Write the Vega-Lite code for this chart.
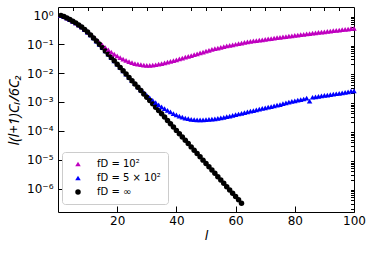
{
  "$schema": "https://vega.github.io/schema/vega-lite/v6.json",
  "width": 296,
  "height": 205,
  "autosize": "none",
  "padding": {"left": 58, "top": 7, "right": 20, "bottom": 41},
  "config": {
    "font": "DejaVu Sans",
    "view": {"stroke": "black", "strokeWidth": 1},
    "axis": {"grid": false, "domain": false, "tickColor": "black", "labelColor": "black", "titleColor": "black", "labelFontSize": 12, "titleFontWeight": "normal", "labelFlush": false}
  },
  "data": {"values": [
    {"l":1,"m":1,"b":1,"k":1},
    {"l":2,"m":0.912,"b":0.912,"k":0.912},
    {"l":3,"m":0.813,"b":0.813,"k":0.813},
    {"l":4,"m":0.724,"b":0.724,"k":0.724},
    {"l":5,"m":0.631,"b":0.631,"k":0.631},
    {"l":6,"m":0.55,"b":0.55,"k":0.55},
    {"l":7,"m":0.468,"b":0.468,"k":0.468},
    {"l":8,"m":0.398,"b":0.398,"k":0.398},
    {"l":9,"m":0.326,"b":0.326,"k":0.326},
    {"l":10,"m":0.266,"b":0.264,"k":0.264},
    {"l":11,"m":0.215,"b":0.211,"k":0.211},
    {"l":12,"m":0.174,"b":0.166,"k":0.166},
    {"l":13,"m":0.14,"b":0.129,"k":0.129},
    {"l":14,"m":0.114,"b":0.0995,"k":0.0995},
    {"l":15,"m":0.0929,"b":0.0764,"k":0.0764},
    {"l":16,"m":0.0766,"b":0.0587,"k":0.0587},
    {"l":17,"m":0.0637,"b":0.0451,"k":0.0451},
    {"l":18,"m":0.0536,"b":0.0347,"k":0.0347},
    {"l":19,"m":0.0457,"b":0.0266,"k":0.0266},
    {"l":20,"m":0.0398,"b":0.0204,"k":0.0204},
    {"l":21,"m":0.0347,"b":0.0157,"k":0.0157},
    {"l":22,"m":0.0305,"b":0.01205,"k":0.01205},
    {"l":23,"m":0.0274,"b":0.00927,"k":0.00927},
    {"l":24,"m":0.0249,"b":0.00711,"k":0.00711},
    {"l":25,"m":0.023,"b":0.00552,"k":0.00546},
    {"l":26,"m":0.0215,"b":0.00429,"k":0.0042},
    {"l":27,"m":0.0204,"b":0.00335,"k":0.00322},
    {"l":28,"m":0.0196,"b":0.00264,"k":0.00248},
    {"l":29,"m":0.0191,"b":0.0021,"k":0.0019},
    {"l":30,"m":0.0187,"b":0.00169,"k":0.00146},
    {"l":31,"m":0.0186,"b":0.00138,"k":0.00112},
    {"l":32,"m":0.0188,"b":0.00114,"k":0.000861},
    {"l":33,"m":0.0195,"b":0.000948,"k":0.000662},
    {"l":34,"m":0.0204,"b":0.0008,"k":0.000508},
    {"l":35,"m":0.0214,"b":0.000682,"k":0.00039},
    {"l":36,"m":0.0226,"b":0.000589,"k":0.0003},
    {"l":37,"m":0.024,"b":0.000513,"k":0.00023},
    {"l":38,"m":0.0254,"b":0.000452,"k":0.000177},
    {"l":39,"m":0.0269,"b":0.000398,"k":0.000136},
    {"l":40,"m":0.0288,"b":0.000355,"k":0.000104},
    {"l":41,"m":0.0309,"b":0.000324,"k":0.0000802},
    {"l":42,"m":0.0331,"b":0.000299,"k":0.0000615},
    {"l":43,"m":0.0355,"b":0.000279,"k":0.0000473},
    {"l":44,"m":0.038,"b":0.000263,"k":0.0000363},
    {"l":45,"m":0.0407,"b":0.000251,"k":0.0000279},
    {"l":46,"m":0.0437,"b":0.000244,"k":0.0000214},
    {"l":47,"m":0.0468,"b":0.00024,"k":0.0000164},
    {"l":48,"m":0.0501,"b":0.000239,"k":0.0000126},
    {"l":49,"m":0.0537,"b":0.00024,"k":0.0000097},
    {"l":50,"m":0.0575,"b":0.000244,"k":0.00000745},
    {"l":51,"m":0.0617,"b":0.000248,"k":0.00000573},
    {"l":52,"m":0.0661,"b":0.000254,"k":0.0000044},
    {"l":53,"m":0.07,"b":0.000262,"k":0.00000338},
    {"l":54,"m":0.0741,"b":0.000271,"k":0.00000259},
    {"l":55,"m":0.0785,"b":0.000282,"k":0.00000199},
    {"l":56,"m":0.0832,"b":0.000295,"k":0.00000153},
    {"l":57,"m":0.0871,"b":0.00031,"k":0.00000117},
    {"l":58,"m":0.0912,"b":0.000327,"k":0.000000904},
    {"l":59,"m":0.0955,"b":0.000344,"k":0.000000693},
    {"l":60,"m":0.1,"b":0.000363,"k":0.000000532},
    {"l":61,"m":0.105,"b":0.000384,"k":0.000000409},
    {"l":62,"m":0.11,"b":0.000406,"k":0.000000314},
    {"l":63,"m":0.115,"b":0.000429},
    {"l":64,"m":0.12,"b":0.000453},
    {"l":65,"m":0.126,"b":0.000479},
    {"l":66,"m":0.13,"b":0.000506},
    {"l":67,"m":0.134,"b":0.000535},
    {"l":68,"m":0.139,"b":0.000565},
    {"l":69,"m":0.143,"b":0.000597},
    {"l":70,"m":0.148,"b":0.000631},
    {"l":71,"m":0.153,"b":0.000664},
    {"l":72,"m":0.158,"b":0.000698},
    {"l":73,"m":0.163,"b":0.000735},
    {"l":74,"m":0.168,"b":0.000773},
    {"l":75,"m":0.174,"b":0.000813},
    {"l":76,"m":0.179,"b":0.000871},
    {"l":77,"m":0.185,"b":0.000933},
    {"l":78,"m":0.19,"b":0.000989},
    {"l":79,"m":0.196,"b":0.00105},
    {"l":80,"m":0.202,"b":0.0011},
    {"l":81,"m":0.208,"b":0.00115},
    {"l":82,"m":0.214,"b":0.0012},
    {"l":83,"m":0.221,"b":0.00127},
    {"l":84,"m":0.228,"b":0.00135},
    {"l":85,"m":0.234,"b":0.00107},
    {"l":86,"m":0.242,"b":0.00146},
    {"l":87,"m":0.249,"b":0.00151},
    {"l":88,"m":0.256,"b":0.00157},
    {"l":89,"m":0.263,"b":0.00162},
    {"l":90,"m":0.27,"b":0.00168},
    {"l":91,"m":0.278,"b":0.00174},
    {"l":92,"m":0.286,"b":0.0018},
    {"l":93,"m":0.294,"b":0.00186},
    {"l":94,"m":0.302,"b":0.00193},
    {"l":95,"m":0.31,"b":0.002},
    {"l":96,"m":0.319,"b":0.00208},
    {"l":97,"m":0.328,"b":0.00217},
    {"l":98,"m":0.337,"b":0.00226},
    {"l":99,"m":0.347,"b":0.00236},
    {"l":100,"m":0.356,"b":0.00245}
  ]},
  "transform": [
    {"fold": ["m", "b", "k"], "as": ["series", "v"]},
    {"filter": "isValid(datum.v)"}
  ],
  "layer": [
    {
      "mark": {"type": "point", "filled": true, "opacity": 1},
      "encoding": {
        "x": {"field": "l", "type": "quantitative",
              "scale": {"domain": [0, 100], "nice": false, "zero": false},
              "axis": {"values": [20, 40, 60, 80, 100], "tickSize": -6, "labelPadding": 9, "title": "l", "titleFontStyle": "italic", "titleFontSize": 13, "titlePadding": 3}},
        "y": {"field": "v", "type": "quantitative",
              "scale": {"type": "log", "domain": [1.55e-7, 1.95], "nice": false},
              "axis": {"values": [0.000001, 0.00001, 0.0001, 0.001, 0.01, 0.1, 1], "tickSize": -6, "labelPadding": 11,
                       "labelExpr": "datum.value > 0.5 ? '10⁰' : datum.value > 0.05 ? '10⁻¹' : datum.value > 0.005 ? '10⁻²' : datum.value > 0.0005 ? '10⁻³' : datum.value > 0.00005 ? '10⁻⁴' : datum.value > 0.000005 ? '10⁻⁵' : '10⁻⁶'",
                       "title": "l(l+1)Cₗ/6C₂", "titleFont": "Noto Sans", "titleFontStyle": "italic", "titleFontSize": 14.5, "titlePadding": 5}},
        "size": {"field": "series", "type": "nominal",
                 "scale": {"domain": ["m", "b", "k"], "range": [30, 30, 20]}, "legend": null},
        "color": {"field": "series", "type": "nominal",
                  "scale": {"domain": ["m", "b", "k"], "range": ["#bf00bf", "#0000ff", "#000000"]},
                  "legend": {"title": null, "orient": "none", "legendX": 4, "legendY": 145, "padding": 7, "fillColor": "white", "strokeColor": "#cccccc", "cornerRadius": 3, "labelFontSize": 10, "symbolSize": 20, "symbolOffset": 4, "labelOffset": 14, "rowPadding": 4,
                             "labelExpr": "datum.label == 'm' ? 'fD = 10²' : datum.label == 'b' ? 'fD = 5 × 10²' : 'fD = ∞'"}},
        "shape": {"field": "series", "type": "nominal",
                  "scale": {"domain": ["m", "b", "k"], "range": ["triangle-up", "triangle-up", "circle"]},
                  "legend": {"title": null, "orient": "none", "legendX": 4, "legendY": 145, "padding": 7, "fillColor": "white", "strokeColor": "#cccccc", "cornerRadius": 3, "labelFontSize": 10, "symbolSize": 20, "symbolOffset": 4, "labelOffset": 14, "rowPadding": 4,
                             "labelExpr": "datum.label == 'm' ? 'fD = 10²' : datum.label == 'b' ? 'fD = 5 × 10²' : 'fD = ∞'"}}
      }
    },
    {
      "mark": {"type": "point", "opacity": 0},
      "encoding": {
        "x": {"field": "l", "type": "quantitative",
              "axis": {"values": [5, 10, 15, 25, 30, 35, 45, 50, 55, 65, 70, 75, 85, 90, 95], "tickSize": -3.5, "labels": false, "title": null}},
        "y": {"field": "v", "type": "quantitative",
              "axis": {"values": [2e-7, 3e-7, 4e-7, 5e-7, 6e-7, 7e-7, 8e-7, 9e-7, 2e-6, 3e-6, 4e-6, 5e-6, 6e-6, 7e-6, 8e-6, 9e-6, 2e-5, 3e-5, 4e-5, 5e-5, 6e-5, 7e-5, 8e-5, 9e-5, 2e-4, 3e-4, 4e-4, 5e-4, 6e-4, 7e-4, 8e-4, 9e-4, 0.002, 0.003, 0.004, 0.005, 0.006, 0.007, 0.008, 0.009, 0.02, 0.03, 0.04, 0.05, 0.06, 0.07, 0.08, 0.09, 0.2, 0.3, 0.4, 0.5, 0.6, 0.7, 0.8, 0.9], "tickSize": -3.5, "labels": false, "title": null}}
      }
    }
  ],
  "resolve": {"axis": {"x": "independent", "y": "independent"}}
}
